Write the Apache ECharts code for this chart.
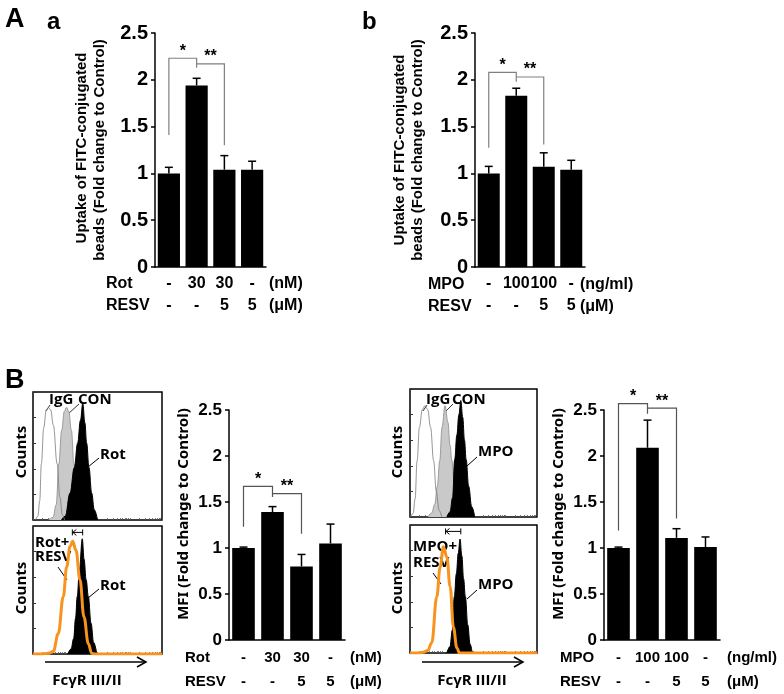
<!DOCTYPE html>
<html><head><meta charset="utf-8">
<script src="https://cdn.jsdelivr.net/npm/echarts@6/dist/echarts.min.js"></script>
<style>html,body{margin:0;padding:0;background:#fff}#c{width:784px;height:694px}</style>
</head><body><div id="c"></div>
<script>
// ================= DATA =================
// Panel A-a (Rot)
const aaRotRow  = ['-', '30', '30', '-'];
const aaResvRow = ['-', '-', '5', '5'];
const aaMeans   = [1.00, 1.94, 1.04, 1.04];
const aaErrors  = [0.065, 0.076, 0.15, 0.09];
// brackets: [leftCat, rightCat, leftBottom, top, rightBottom, label]
const aaBrackets = [[0, 1, 1.41, 2.23, 2.13, '*'], [1, 2, 2.17, 2.17, 1.30, '**']];
// Panel A-b (MPO)
const abMpoRow  = ['-', '100', '100', '-'];
const abResvRow = ['-', '-', '5', '5'];
const abMeans   = [1.00, 1.83, 1.07, 1.04];
const abErrors  = [0.075, 0.08, 0.15, 0.10];
const abBrackets = [[0, 1, 1.275, 2.08, 1.98, '*'], [1, 2, 2.03, 2.03, 1.31, '**']];
// Panel B MFI (Rot)
const bRotRow   = ['-', '30', '30', '-'];
const bRotResv  = ['-', '-', '5', '5'];
const bRotMeans = [1.00, 1.39, 0.80, 1.05];
const bRotErrors= [0.01, 0.06, 0.13, 0.21];
const bRotBrackets = [[0, 1, 1.23, 1.67, 1.555, '*'], [1, 2, 1.59, 1.59, 1.155, '**']];
// Panel B MFI (MPO)
const bMpoRow   = ['-', '100', '100', '-'];
const bMpoResv  = ['-', '-', '5', '5'];
const bMpoMeans = [1.00, 2.09, 1.11, 1.01];
const bMpoErrors= [0.01, 0.30, 0.10, 0.11];
const bMpoBrackets = [[0, 1, 1.19, 2.57, 2.46, '*'], [1, 2, 2.52, 2.52, 1.32, '**']];
const yMin = 0, yMax = 2.5, yInterval = 0.5;

// Histograms (x: channel position 0-100 across the plot, y: % of max counts)
const hRotIgG  = [[2,0],[3.8,3],[5.2,15],[6.5,44],[8.3,72],[10.3,86],[12,88],[13.7,86],[15.8,74],[18.7,44],[20.8,18],[22.8,4],[24.5,0]];
const hRotCon  = [[12,0],[15.5,2],[18,12],[20,44],[22.2,70],[24.3,85],[26,88],[27.7,85],[29.8,70],[31.7,44],[34,20],[36,7],[38.5,0]];
const hRotRot  = [[22,0],[25,3],[28.7,21],[32,41],[34.6,60],[36.8,78],[38.6,91],[40.2,76],[41.6,60],[43.4,41],[45.5,21],[47.5,8],[50,0]];
const hRotRot2 = [[27,0],[29.5,4],[31.5,12],[33,28],[34.3,45],[36,66],[38.2,90],[39.6,74],[41.2,58],[42.9,45],[45,24],[47,9],[49.5,0]];
const hRotResv = [[0,0],[5,0],[12,0.5],[15.7,2],[19.6,16],[23.5,45],[26.1,68],[28.7,84],[30.8,88],[33.3,81],[36.4,58],[39.5,29],[42.9,8],[45.5,0.5],[48,0],[100,0]];
const hRotShift = [[30.5, 38.5, 95]];
const hMpoIgG  = [[0.5,0],[2.5,3],[4,14],[5.6,44],[7.4,70],[9.7,84],[11.8,87],[13.9,84],[16.2,70],[18.6,44],[20.7,20],[23,5],[25,0]];
const hMpoCon  = [[14,0],[17,3],[19.5,10],[21.5,24],[23.4,44],[25.2,70],[27.6,87],[29.9,74],[31.5,56],[33,44],[35.2,22],[37.2,8],[39.5,0]];
const hMpoMpo  = [[29,0],[31.5,4],[33.5,15],[35.2,45],[36.9,64],[38.5,80],[40,91],[41.5,78],[42.9,60],[44.2,45],[46.2,24],[48.6,8],[51,0]];
const hMpoMpo2 = [[29,0],[31.5,5],[33.3,18],[34.9,44],[36.5,62],[38,78],[39.4,89],[40.8,76],[42.2,58],[43.6,44],[45.5,22],[47.3,7],[49,0]];
const hMpoResv = [[0,0],[6,0],[10,0.5],[14,2],[17.1,8],[21.1,44],[23.7,67],[26.3,83],[29,75],[31.6,52],[34.2,20],[36.9,4],[39,0],[100,0]];
const hMpoShift = [[28, 40, 95]];

// ================= CHART =================
const AR = 'Liberation Sans';
const NS = 'Noto Sans';
const OS = 'Open Sans';
const ORANGE = '#f7931e';
const chart = echarts.init(document.getElementById('c'), null, {renderer: 'canvas'});

const barGrids = [
  {left: 155, top: 33, width: 111, height: 234},
  {left: 475, top: 33, width: 110, height: 234},
  {left: 229, top: 410, width: 116, height: 230},
  {left: 604, top: 410, width: 116, height: 230}
];
const histGrids = [
  {left: 33, top: 392, width: 129, height: 128},
  {left: 33, top: 526, width: 129, height: 128},
  {left: 410, top: 389, width: 127, height: 128},
  {left: 410, top: 525, width: 127, height: 128}
];
const grids = barGrids.map(g => Object.assign({containLabel: false}, g))
  .concat(histGrids.map(g => Object.assign({show: true, borderColor: '#000', borderWidth: 1.5, backgroundColor: 'transparent'}, g)));

const rows = [[aaRotRow, aaResvRow], [abMpoRow, abResvRow], [bRotRow, bRotResv], [bMpoRow, bMpoResv]];
const tickFont = [20, 20, 17, 17];
const catFont = [16, 16, 15, 15];
const catLH = [22, 22, 24, 24];

const logTicks = [];
for (let d = 0; d < 4; d++) for (let k = 1; k <= 9; k++) logTicks.push(25 * d + 25 * Math.log10(k));
logTicks.push(100);

const xAxes = [], yAxes = [];
rows.forEach((r, i) => {
  xAxes.push({
    type: 'category', gridIndex: i,
    data: r[0].map((v, j) => v + '\n' + r[1][j]),
    axisLine: {lineStyle: {color: '#000', width: 1.5}},
    axisTick: {show: false},
    axisLabel: {interval: 0, margin: 6, color: '#000', fontFamily: AR, fontWeight: 'bold', fontSize: catFont[i], lineHeight: catLH[i]}
  });
  yAxes.push({
    type: 'value', gridIndex: i, min: yMin, max: yMax, interval: yInterval,
    axisLine: {show: true, lineStyle: {color: '#000', width: 1.5}},
    axisTick: {show: true, length: 4, lineStyle: {color: '#000', width: 1.5}},
    splitLine: {show: false},
    axisLabel: {margin: 7, color: '#000', fontFamily: AR, fontWeight: 'bold', fontSize: tickFont[i]}
  });
});
histGrids.forEach((g, k) => {
  const gi = 4 + k;
  xAxes.push({
    type: 'value', gridIndex: gi, min: 0, max: 100,
    axisLine: {show: false}, splitLine: {show: false}, axisLabel: {show: false},
    axisTick: {show: true, inside: true, length: 2, customValues: logTicks, lineStyle: {color: '#555', width: 0.8}}
  });
  yAxes.push({
    type: 'value', gridIndex: gi, min: 0, max: 100, interval: 20,
    axisLine: {show: false}, splitLine: {show: false}, axisLabel: {show: false},
    axisTick: {show: true, inside: true, length: 3, lineStyle: {color: '#333', width: 1}}
  });
});

function barSeries(i, means) {
  return {type: 'bar', xAxisIndex: i, yAxisIndex: i, data: means, barCategoryGap: i < 2 ? '20%' : '22%',
    itemStyle: {color: '#000'}, silent: true, z: 2};
}
function errSeries(i, means, errs) {
  return {type: 'custom', xAxisIndex: i, yAxisIndex: i, z: 3, silent: true,
    data: means.map((m, j) => [j, m, m + errs[j]]),
    renderItem(params, api) {
      const x = api.value(0);
      const b = api.coord([x, api.value(1)]), t = api.coord([x, api.value(2)]);
      const w = 4;
      return {type: 'group', children: [
        {type: 'line', shape: {x1: t[0], y1: b[1], x2: t[0], y2: t[1]}, style: {stroke: '#000', lineWidth: 1.5}},
        {type: 'line', shape: {x1: t[0] - w, y1: t[1], x2: t[0] + w, y2: t[1]}, style: {stroke: '#000', lineWidth: 1.5}}
      ]};
    }};
}
function bracketSeries(i, brackets, color) {
  return {type: 'custom', xAxisIndex: i, yAxisIndex: i, z: 4, clip: false, silent: true,
    data: brackets.map((b, j) => [b[0], b[3], j]),
    renderItem(params, api) {
      const b = brackets[params.dataIndex];
      const p1 = api.coord([b[0], b[2]]), p2 = api.coord([b[0], b[3]]);
      const p3 = api.coord([b[1], b[3]]), p4 = api.coord([b[1], b[4]]);
      return {type: 'group', children: [
        {type: 'polyline', shape: {points: [p1, p2, p3, p4]}, style: {stroke: color, lineWidth: 1.2, fill: null}},
        {type: 'text', x: (p2[0] + p3[0]) / 2, y: p2[1] + 1,
          style: {text: b[5], fill: '#000', fontFamily: AR, fontWeight: 'bold', fontSize: 16, align: 'center', verticalAlign: 'bottom'}}
      ]};
    }};
}
function histLine(gi, data, opt) {
  return Object.assign({type: 'line', xAxisIndex: gi, yAxisIndex: gi, data: data, smooth: 0.4, smoothMonotone: 'x',
    symbol: 'none', silent: true, clip: true}, opt);
}
function shiftSeries(gi, data) {
  return {type: 'custom', xAxisIndex: gi, yAxisIndex: gi, z: 6, silent: true, data: data,
    renderItem(params, api) {
      const a = api.coord([api.value(0), api.value(2)]), b = api.coord([api.value(1), api.value(2)]);
      const s = {stroke: '#000', lineWidth: 1};
      return {type: 'group', children: [
        {type: 'line', shape: {x1: a[0], y1: a[1], x2: b[0], y2: b[1]}, style: s},
        {type: 'line', shape: {x1: b[0], y1: b[1] - 3, x2: b[0], y2: b[1] + 3}, style: s},
        {type: 'line', shape: {x1: a[0], y1: a[1] - 3, x2: a[0], y2: a[1] + 3}, style: s},
        {type: 'polyline', shape: {points: [[a[0] + 4, a[1] - 3], [a[0] + 0.5, a[1]], [a[0] + 4, a[1] + 3]]}, style: Object.assign({fill: null}, s)}
      ]};
    }};
}

const series = [
  barSeries(0, aaMeans), errSeries(0, aaMeans, aaErrors), bracketSeries(0, aaBrackets, '#808080'),
  barSeries(1, abMeans), errSeries(1, abMeans, abErrors), bracketSeries(1, abBrackets, '#808080'),
  barSeries(2, bRotMeans), errSeries(2, bRotMeans, bRotErrors), bracketSeries(2, bRotBrackets, '#555'),
  barSeries(3, bMpoMeans), errSeries(3, bMpoMeans, bMpoErrors), bracketSeries(3, bMpoBrackets, '#555'),
  // left top histogram
  histLine(4, hRotCon, {lineStyle: {color: '#8a8a8a', width: 0.8}, areaStyle: {color: '#c9c9c9', opacity: 1}, z: 2}),
  histLine(4, hRotRot, {lineStyle: {color: '#000', width: 1}, areaStyle: {color: '#000', opacity: 1}, z: 3}),
  histLine(4, hRotIgG, {lineStyle: {color: '#7a7a7a', width: 0.8}, z: 4}),
  // left bottom histogram
  histLine(5, hRotRot2, {lineStyle: {color: '#000', width: 1}, areaStyle: {color: '#000', opacity: 1}, z: 3}),
  histLine(5, hRotResv, {lineStyle: {color: ORANGE, width: 3}, z: 4}),
  shiftSeries(5, hRotShift),
  // right top histogram
  histLine(6, hMpoCon, {lineStyle: {color: '#8a8a8a', width: 0.8}, areaStyle: {color: '#c9c9c9', opacity: 1}, z: 2}),
  histLine(6, hMpoMpo, {lineStyle: {color: '#000', width: 1}, areaStyle: {color: '#000', opacity: 1}, z: 3}),
  histLine(6, hMpoIgG, {lineStyle: {color: '#7a7a7a', width: 0.8}, z: 4}),
  // right bottom histogram
  histLine(7, hMpoMpo2, {lineStyle: {color: '#000', width: 1}, areaStyle: {color: '#000', opacity: 1}, z: 3}),
  histLine(7, hMpoResv, {lineStyle: {color: ORANGE, width: 3}, z: 4}),
  shiftSeries(7, hMpoShift)
];

// ---------- annotation text ----------
function T(text, x, y, size, extra) {
  return {type: 'text', x: x, y: y, silent: true,
    style: Object.assign({text: text, fill: '#000', fontFamily: AR, fontWeight: 'bold', fontSize: size, align: 'left', verticalAlign: 'middle'}, extra || {})};
}
function R(text, x, y, size, family) {
  return {type: 'text', x: x, y: y, rotation: Math.PI / 2, silent: true,
    style: {text: text, fill: '#000', fontFamily: family || AR, fontWeight: 'bold', fontSize: size, align: 'center', verticalAlign: 'middle'}};
}
function L(x1, y1, x2, y2, w) {
  return {type: 'line', silent: true, shape: {x1: x1, y1: y1, x2: x2, y2: y2}, style: {stroke: '#000', lineWidth: w || 1}};
}
function N(text, x, y) { return T(text, x, y, 15, {fontFamily: OS}); }

const graphics = [
  T('A', 5, 20, 27), T('a', 47, 22, 24), T('b', 362, 22, 24), T('B', 5, 381, 27),
  // A-a labels
  R('Uptake of FITC-conjugated', 82, 148, 15), R('beads (Fold change to Control)', 100, 150, 15),
  T('Rot', 106, 284, 16), T('RESV', 106, 306, 16), T('(nM)', 269, 284, 16), T('(μM)', 269, 306, 16),
  // A-b labels
  R('Uptake of FITC-conjugated', 400, 150, 15), R('beads (Fold change to Control)', 418, 150, 15),
  T('MPO', 428, 285, 16), T('RESV', 428, 307, 16), T('(ng/ml)', 580, 285, 16), T('(μM)', 580, 307, 16),
  // B left bars
  R('MFI (Fold change to Control)', 184, 514, 15, NS),
  T('Rot', 185, 658, 15), T('RESV', 185, 682, 15), T('(nM)', 350, 658, 15), T('(μM)', 350, 682, 15),
  // B right bars
  R('MFI (Fold change to Control)', 559, 514, 15, NS),
  T('MPO', 560, 658, 15), T('RESV', 560, 682, 15), T('(ng/ml)', 727, 658, 15), T('(μM)', 727, 682, 15),
  // left histograms
  R('Counts', 22, 452, 15, OS), R('Counts', 22, 588, 15, OS),
  N('IgG', 49, 400), L(50, 405, 46, 411, 0.8),
  N('CON', 78, 400), L(79, 404, 68, 414, 0.8),
  N('Rot', 100, 455), L(99, 458, 88, 467, 1),
  N('Rot+', 35, 543), N('RESV', 35, 557), L(58, 567, 67, 580, 1),
  N('Rot', 100, 586), L(99, 589, 88, 598, 1),
  L(45, 662, 146, 662, 1.5), {type: 'polyline', silent: true, shape: {points: [[137, 657], [146, 662], [137, 667]]}, style: {stroke: '#000', lineWidth: 1.5, fill: null}},
  T('FcγR III/II', 87, 681, 15, {fontFamily: OS, align: 'center'}),
  // right histograms
  R('Counts', 398, 452, 15, OS), R('Counts', 398, 588, 15, OS),
  N('IgG', 426, 400), L(427, 405, 423, 411, 0.8),
  N('CON', 452, 400), L(453, 404, 444, 413, 0.8),
  N('MPO', 478, 452), L(477, 457, 467, 466, 1),
  N('MPO+', 413, 547), N('RESV', 413, 563), L(433, 573, 441, 584, 1),
  N('MPO', 478, 585), L(477, 590, 467, 599, 1),
  L(422, 662, 523, 662, 1.5), {type: 'polyline', silent: true, shape: {points: [[514, 657], [523, 662], [514, 667]]}, style: {stroke: '#000', lineWidth: 1.5, fill: null}},
  T('FcγR III/II', 472, 681, 15, {fontFamily: OS, align: 'center'})
];

chart.setOption({
  animation: false,
  backgroundColor: '#fff',
  grid: grids,
  xAxis: xAxes,
  yAxis: yAxes,
  series: series,
  graphic: {elements: graphics}
});
</script>
</body></html>
